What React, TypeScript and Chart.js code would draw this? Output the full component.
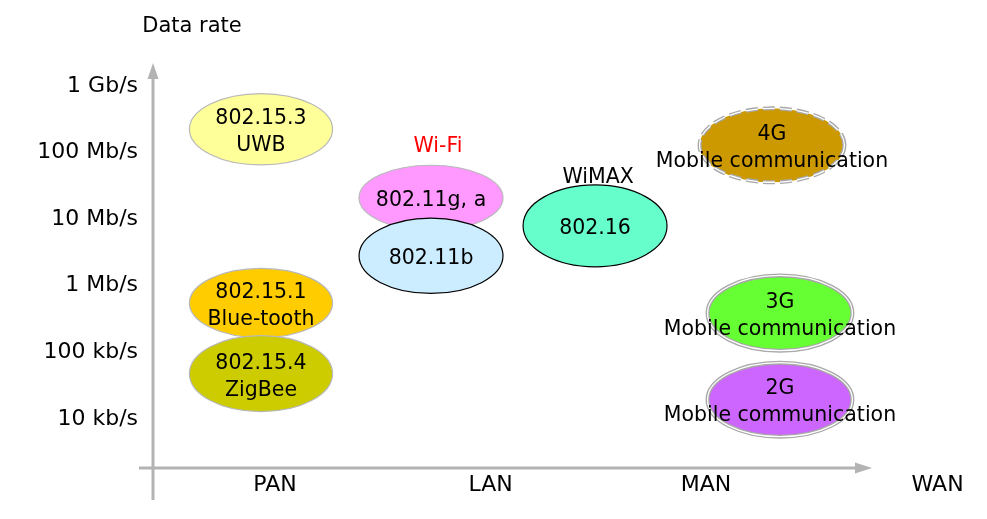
import { useEffect, useRef } from "react";
import { Chart, registerables } from "chart.js";

Chart.register(...registerables);

// ---- data ----
const rateTicks = [1e4, 1e5, 1e6, 1e7, 1e8, 1e9];
const rateTickLabels = ["10 kb/s", "100 kb/s", "1 Mb/s", "10 Mb/s", "100 Mb/s", "1 Gb/s"];
const networkCategories = ["PAN", "LAN", "MAN", "WAN"];
const axisTitle = "Data rate";

const techLabels = [
  ["802.15.3", "UWB"],
  ["802.15.1", "Blue-tooth"],
  ["802.15.4", "ZigBee"],
  ["802.11g, a"],
  ["802.11b"],
  ["802.16"],
  ["4G", "Mobile communication"],
  ["3G", "Mobile communication"],
  ["2G", "Mobile communication"],
];
// position along the network-range axis (0 = PAN, 1 = LAN, 2 = MAN, 3 = WAN)
const techRange = [-0.065, -0.065, -0.065, 0.724, 0.724, 1.485, 2.306, 2.343, 2.343];
// typical data rate (bit/s)
const techRate = [2.09e8, 5.13e5, 4.47e4, 1.95e7, 2.63e6, 7.41e6, 1.2e8, 3.63e5, 1.82e4];
// extent along the range axis (categories) and the rate axis (decades)
const techRangeSpan = [0.664, 0.664, 0.664, 0.668, 0.668, 0.668, 0.672, 0.672, 0.672];
const techRateSpan = [1.07, 1.04, 1.14, 0.98, 1.13, 1.23, 1.11, 1.13, 1.11];

const groupLabels = ["Wi-Fi", "WiMAX"];
const groupRange = [0.756, 1.499];
const groupRate = [1.2e8, 4.0e7];

// ---- styles ----
const techFill = ["#FFFF99", "#FFCC00", "#CCCC00", "#FF99FF", "#CCECFF", "#66FFCC", "#CC9900", "#66FF33", "#CC66FF"];
const techBorder = ["#B8B8B8", "#B8B8B8", "#B8B8B8", "#B8B8B8", "#000000", "#000000", "#A8A8A8", "#A8A8A8", "#A8A8A8"];
const techBorderKind = ["thin", "thin", "thin", "thin", "thin", "thin", "dashdouble", "double", "double"];
const groupColors = ["#FF0000", "#000000"];
const FONT = "'DejaVu Sans', sans-serif";
const AXIS_COLOR = "#B3B3B3";

const diagramPlugin = {
  id: "diagram",
  afterDatasetsDraw(chart: any) {
    const ctx = chart.ctx as CanvasRenderingContext2D;
    const xs = chart.scales.x;
    const ys = chart.scales.y;
    const area = chart.chartArea;
    ctx.save();

    // axes with arrows
    ctx.strokeStyle = AXIS_COLOR;
    ctx.fillStyle = AXIS_COLOR;
    ctx.lineWidth = 3;
    ctx.beginPath();
    ctx.moveTo(area.left, area.bottom + 32);
    ctx.lineTo(area.left, area.top + 15);
    ctx.moveTo(area.left - 14, area.bottom);
    ctx.lineTo(area.right - 16, area.bottom);
    ctx.stroke();
    ctx.beginPath();
    ctx.moveTo(area.left, area.top);
    ctx.lineTo(area.left - 5.5, area.top + 16);
    ctx.lineTo(area.left + 5.5, area.top + 16);
    ctx.closePath();
    ctx.fill();
    ctx.beginPath();
    ctx.moveTo(area.right, area.bottom);
    ctx.lineTo(area.right - 17, area.bottom - 5.5);
    ctx.lineTo(area.right - 17, area.bottom + 5.5);
    ctx.closePath();
    ctx.fill();

    // tick labels
    ctx.fillStyle = "#000";
    ctx.font = `22px ${FONT}`;
    ctx.textAlign = "right";
    ctx.textBaseline = "middle";
    rateTicks.forEach((v, i) => {
      ctx.fillText(rateTickLabels[i], area.left - 15, ys.getPixelForValue(v) + 2);
    });
    ctx.textAlign = "center";
    networkCategories.forEach((c, i) => {
      const px = xs.getPixelForValue(i);
      const shift = px > area.right ? 16 : 0;
      ctx.fillText(c, px + shift, area.bottom + 17);
    });
    ctx.font = `21px ${FONT}`;
    ctx.fillText(axisTitle, area.left + 39, area.top - 36);

    // ellipses
    techLabels.forEach((_, i) => {
      const cx = xs.getPixelForValue(techRange[i]);
      const cy = ys.getPixelForValue(techRate[i]);
      const rx = (xs.getPixelForValue(techRange[i] + techRangeSpan[i] / 2) - xs.getPixelForValue(techRange[i] - techRangeSpan[i] / 2)) / 2;
      const f = Math.pow(10, techRateSpan[i] / 2);
      const ry = (ys.getPixelForValue(techRate[i] / f) - ys.getPixelForValue(techRate[i] * f)) / 2;
      ctx.beginPath();
      ctx.ellipse(cx, cy, rx, ry, 0, 0, Math.PI * 2);
      ctx.fillStyle = techFill[i];
      ctx.fill();
      const kind = techBorderKind[i];
      if (kind === "thin") {
        ctx.setLineDash([]);
        ctx.lineWidth = 1.2;
        ctx.strokeStyle = techBorder[i];
        ctx.stroke();
      } else {
        ctx.setLineDash(kind === "dashdouble" ? [12, 5] : []);
        ctx.lineWidth = 4;
        ctx.strokeStyle = techBorder[i];
        ctx.stroke();
        ctx.lineWidth = 1.3;
        ctx.strokeStyle = "#FFFFFF";
        ctx.stroke();
        ctx.setLineDash([]);
      }
    });

    // ellipse texts
    ctx.fillStyle = "#000";
    ctx.font = `20.5px ${FONT}`;
    ctx.textAlign = "center";
    ctx.textBaseline = "middle";
    techLabels.forEach((lines, i) => {
      const cx = xs.getPixelForValue(techRange[i]);
      const cy = ys.getPixelForValue(techRate[i]);
      const lh = 27;
      const start = cy + 3 - ((lines.length - 1) * lh) / 2;
      lines.forEach((t, j) => ctx.fillText(t, cx, start + j * lh));
    });

    // group labels
    groupLabels.forEach((g, i) => {
      ctx.fillStyle = groupColors[i];
      ctx.fillText(g, xs.getPixelForValue(groupRange[i]), ys.getPixelForValue(groupRate[i]) + 1);
    });
    ctx.restore();
  },
};

export default function App() {
  const ref = useRef<HTMLCanvasElement | null>(null);
  useEffect(() => {
    if (!ref.current) return;
    const chart = new Chart(ref.current, {
      type: "scatter",
      data: {
        datasets: [
          {
            label: "technologies",
            data: techRange.map((x, i) => ({ x, y: techRate[i] })),
            pointRadius: 0,
            pointHoverRadius: 0,
          },
        ],
      },
      options: {
        responsive: false,
        animation: false,
        events: [],
        layout: { padding: { left: 153, right: 115, top: 63, bottom: 51 } },
        plugins: { legend: { display: false }, tooltip: { enabled: false } },
        scales: {
          x: { type: "linear", display: false, min: -0.566, max: 2.77 },
          y: { type: "logarithmic", display: false, min: 1714, max: 2.065e9 },
        },
      },
      plugins: [diagramPlugin],
    });
    return () => chart.destroy();
  }, []);
  return (
    <div style={{ position: "fixed", left: 0, top: 0, width: 987, height: 519, background: "#fff" }}>
      <canvas ref={ref} width={987} height={519} style={{ width: 987, height: 519, display: "block" }} />
    </div>
  );
}
